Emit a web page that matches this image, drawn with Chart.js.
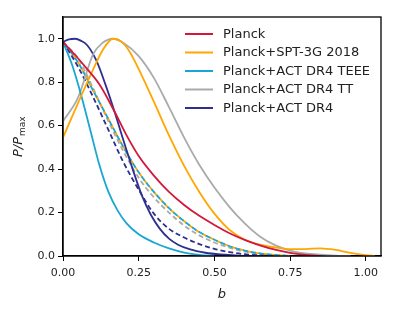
<!DOCTYPE html>
<html>
<head>
<meta charset="utf-8">
<script src="https://cdn.jsdelivr.net/npm/chart.js@4/dist/chart.umd.min.js"></script>
<style>
  html, body { margin: 0; padding: 0; background: #fff; }
  #wrap { width: 400px; height: 314px; }
</style>
</head>
<body>
<div id="wrap"><canvas id="c" width="400" height="314"></canvas></div>
<script>
// ---- Data ----
const seriesNames = ["Planck", "Planck+SPT-3G 2018", "Planck+ACT DR4 TEEE", "Planck+ACT DR4 TT", "Planck+ACT DR4"];

const planckB = [0, 0.04, 0.08, 0.12, 0.17, 0.21, 0.25, 0.30, 0.35, 0.40, 0.45, 0.50, 0.55, 0.60, 0.65, 0.70, 0.75, 0.80, 0.85];
const planckP = [0.985, 0.925, 0.86, 0.79, 0.665, 0.555, 0.46, 0.37, 0.295, 0.235, 0.185, 0.143, 0.105, 0.074, 0.049, 0.029, 0.014, 0.005, 0];

const sptB = [0, 0.05, 0.10, 0.13, 0.165, 0.19, 0.22, 0.25, 0.30, 0.35, 0.40, 0.45, 0.50, 0.55, 0.60, 0.65, 0.70, 0.75, 0.80, 0.85, 0.90, 0.95, 1.00, 1.03];
const sptP = [0.545, 0.705, 0.86, 0.945, 1.0, 0.99, 0.94, 0.86, 0.71, 0.555, 0.415, 0.295, 0.195, 0.12, 0.075, 0.052, 0.04, 0.032, 0.032, 0.035, 0.028, 0.014, 0.004, 0];

const teeeB = [0, 0.03, 0.06, 0.09, 0.12, 0.15, 0.18, 0.21, 0.25, 0.30, 0.35, 0.40, 0.45, 0.50];
const teeeP = [0.985, 0.88, 0.74, 0.58, 0.42, 0.295, 0.21, 0.15, 0.10, 0.062, 0.035, 0.016, 0.005, 0];

const ttB = [0, 0.05, 0.10, 0.13, 0.165, 0.20, 0.25, 0.30, 0.35, 0.40, 0.45, 0.50, 0.55, 0.60, 0.65, 0.70, 0.75, 0.80, 0.85, 0.90, 0.95];
const ttP = [0.62, 0.73, 0.93, 0.98, 1.0, 0.98, 0.92, 0.82, 0.685, 0.545, 0.42, 0.315, 0.225, 0.15, 0.09, 0.05, 0.025, 0.012, 0.006, 0.002, 0];

const actB = [0, 0.02, 0.04, 0.06, 0.08, 0.11, 0.14, 0.17, 0.20, 0.23, 0.26, 0.29, 0.32, 0.35, 0.38, 0.42, 0.47, 0.52, 0.58, 0.65];
const actP = [0.985, 0.997, 1.0, 0.99, 0.97, 0.90, 0.79, 0.665, 0.53, 0.40, 0.28, 0.19, 0.125, 0.08, 0.052, 0.03, 0.015, 0.007, 0.002, 0];

// dashed curves
const dashNavyB = [0, 0.05, 0.10, 0.15, 0.20, 0.25, 0.30, 0.35, 0.40, 0.45, 0.50, 0.55, 0.60, 0.65, 0.70];
const dashNavyP = [0.985, 0.87, 0.73, 0.58, 0.43, 0.305, 0.195, 0.125, 0.085, 0.055, 0.033, 0.018, 0.008, 0.003, 0];

const dashOrangeB = [0, 0.05, 0.10, 0.15, 0.20, 0.25, 0.30, 0.35, 0.40, 0.45, 0.50, 0.55, 0.60, 0.65, 0.70, 0.75];
const dashOrangeP = [0.985, 0.89, 0.76, 0.63, 0.50, 0.385, 0.295, 0.22, 0.16, 0.11, 0.075, 0.045, 0.025, 0.012, 0.005, 0];

const dashCyanB = [0, 0.05, 0.10, 0.15, 0.20, 0.25, 0.30, 0.35, 0.40, 0.45, 0.50, 0.55, 0.60, 0.65, 0.70, 0.75];
const dashCyanP = [0.985, 0.89, 0.76, 0.63, 0.50, 0.385, 0.295, 0.22, 0.16, 0.11, 0.075, 0.045, 0.025, 0.012, 0.005, 0];

const dashGreyB = [0, 0.05, 0.10, 0.15, 0.20, 0.25, 0.30, 0.35, 0.40, 0.45, 0.50, 0.55, 0.60, 0.65, 0.70, 0.75];
const dashGreyP = [0.985, 0.91, 0.77, 0.62, 0.48, 0.36, 0.27, 0.20, 0.14, 0.095, 0.062, 0.038, 0.02, 0.01, 0.004, 0];

const xTicks = [0, 0.25, 0.5, 0.75, 1.0];
const yTicks = [0, 0.2, 0.4, 0.6, 0.8, 1.0];

// ---- Styles ----
const RED = '#d4173a', ORANGE = '#ffa600', CYAN = '#19a6d3', GREY = '#aaaaaa', NAVY = '#2e2f8f';

function pts(bs, ps) { return bs.map((b, i) => ({ x: b, y: ps[i] })); }
function solid(label, bs, ps, color) {
  return { label, data: pts(bs, ps), borderColor: color, backgroundColor: color, borderWidth: 1.8,
    pointRadius: 0, fill: false, cubicInterpolationMode: 'monotone', solidEntry: true };
}
function dashed(label, bs, ps, color, offset) {
  return { label, data: pts(bs, ps), borderColor: color, backgroundColor: color, borderWidth: 1.8,
    borderDash: [5, 3], borderDashOffset: offset || 0, pointRadius: 0, fill: false,
    cubicInterpolationMode: 'monotone', solidEntry: false };
}

const datasets = [
  solid(seriesNames[0], planckB, planckP, RED),
  solid(seriesNames[1], sptB, sptP, ORANGE),
  solid(seriesNames[2], teeeB, teeeP, CYAN),
  solid(seriesNames[3], ttB, ttP, GREY),
  solid(seriesNames[4], actB, actP, NAVY),
  dashed('dash-navy', dashNavyB, dashNavyP, NAVY, 0),
  dashed('dash-cyan', dashCyanB, dashCyanP, CYAN, 4),
  dashed('dash-orange', dashOrangeB, dashOrangeP, ORANGE, 0),
  dashed('dash-grey', dashGreyB, dashGreyP, GREY, 0)
];

Chart.defaults.font.family = "'DejaVu Sans', sans-serif";
Chart.defaults.color = '#222';

const decor = {
  id: 'decor',
  afterDraw(chart) {
    const ctx = chart.ctx, a = chart.chartArea;
    ctx.save();
    // frame
    ctx.strokeStyle = '#000';
    ctx.lineWidth = 1.3;
    ctx.strokeRect(a.left, a.top, a.right - a.left, a.bottom - a.top);
    // legend
    const rows = [34, 52.5, 71, 89.5, 108];
    ctx.font = "13px 'DejaVu Sans', sans-serif";
    ctx.textBaseline = 'middle';
    ctx.textAlign = 'left';
    let k = 0;
    chart.data.datasets.forEach(ds => {
      if (!ds.solidEntry) return;
      const y = rows[k++];
      ctx.strokeStyle = ds.borderColor;
      ctx.lineWidth = 2;
      ctx.setLineDash([]);
      ctx.beginPath(); ctx.moveTo(185, y); ctx.lineTo(213, y); ctx.stroke();
      ctx.fillStyle = '#222';
      ctx.fillText(ds.label, 223, y + 0.5);
    });
    // y-axis title P/P_max
    ctx.translate(22, 157);
    ctx.rotate(-Math.PI / 2);
    ctx.textBaseline = 'alphabetic';
    ctx.fillStyle = '#222';
    ctx.font = "italic 13px 'DejaVu Sans', sans-serif";
    const main = 'P/P';
    ctx.fillText(main, 0, 0);
    const w = ctx.measureText(main).width;
    ctx.font = "9px 'DejaVu Sans', sans-serif";
    ctx.fillText('max', w + 1, 3);
    ctx.restore();
  }
};

new Chart(document.getElementById('c'), {
  type: 'line',
  data: { datasets },
  options: {
    responsive: false,
    animation: false,
    layout: { padding: { left: 0, top: 17, right: 19, bottom: 0 } },
    plugins: { legend: { display: false }, tooltip: { enabled: false } },
    scales: {
      x: {
        type: 'linear', min: 0, max: 1.05,
        afterBuildTicks: s => { s.ticks = xTicks.map(v => ({ value: v })); },
        afterFit: s => { s.height = 58; },
        ticks: { callback: v => v.toFixed(2), font: { size: 11 }, color: '#222', padding: 6, maxRotation: 0 },
        grid: { display: true, drawOnChartArea: false, drawTicks: true, tickLength: 5, color: '#000', tickWidth: 1 },
        border: { display: true, color: '#000', width: 1.3 },
        title: { display: true, text: 'b', font: { size: 13, style: 'italic' }, color: '#222', padding: { top: 0, bottom: 12 } }
      },
      y: {
        type: 'linear', min: 0, max: 1.1,
        afterBuildTicks: s => { s.ticks = yTicks.map(v => ({ value: v })); },
        afterFit: s => { s.width = 63; },
        ticks: { callback: v => v.toFixed(1), font: { size: 11 }, color: '#222', padding: 3 },
        grid: { display: true, drawOnChartArea: false, drawTicks: true, tickLength: 5, color: '#000', tickWidth: 1 },
        border: { display: true, color: '#000', width: 1.3 }
      }
    }
  },
  plugins: [decor]
});
</script>
</body>
</html>
